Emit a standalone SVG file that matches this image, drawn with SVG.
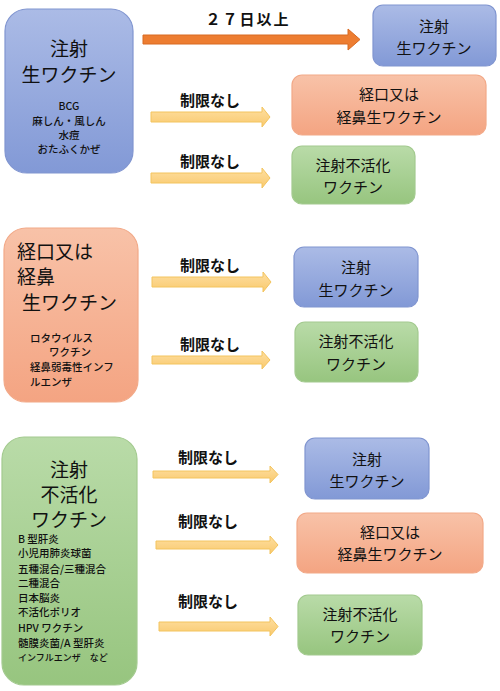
<svg xmlns="http://www.w3.org/2000/svg" width="500" height="691" viewBox="0 0 500 691">
<defs>
<linearGradient id="gb" x1="0" y1="0" x2="0" y2="1"><stop offset="0" stop-color="#abbbe6"/><stop offset="1" stop-color="#8299d6"/></linearGradient>
<linearGradient id="go" x1="0" y1="0" x2="0" y2="1"><stop offset="0" stop-color="#f8c2a8"/><stop offset="1" stop-color="#f4a482"/></linearGradient>
<linearGradient id="gg" x1="0" y1="0" x2="0" y2="1"><stop offset="0" stop-color="#b9dba8"/><stop offset="1" stop-color="#97c57f"/></linearGradient>
<linearGradient id="gy" x1="0" y1="0" x2="0" y2="1"><stop offset="0" stop-color="#fedfa2"/><stop offset="1" stop-color="#f9c96d"/></linearGradient>
</defs>
<style>
text{font-family:"Noto Sans CJK JP","Noto Sans",sans-serif;fill:#111;}
.b{fill:url(#gb);stroke:#8095d0;stroke-width:1.2;}
.o{fill:url(#go);stroke:#f2a988;stroke-width:1.2;}
.g{fill:url(#gg);stroke:#a3ca8f;stroke-width:1.2;}
.ya{fill:url(#gy);stroke:#f3c45e;stroke-width:1;}
.oa{fill:#ed7d31;stroke:#d86a22;stroke-width:1;}
.big{font-size:19px;}
.mid{font-size:15px;}
.sm{font-size:10.5px;font-weight:500;}
.xs{font-size:9px;font-weight:500;}
.lb{font-size:15px;font-weight:bold;text-anchor:middle;}
.c{text-anchor:middle;}
</style>
<g id="connectors">
<path class="oa" d="M143,35 H348 V29 L360,39.5 L348,50 V44 H143 Z"/>
<text class="lb" x="248" y="25" style="letter-spacing:2px">２７日以上</text>
<path class="ya" d="M151,112 H262 V107 L270,117 L262,127 V122 H151 Z"/>
<text class="lb" x="210" y="106">制限なし</text>
<path class="ya" d="M151,173 H262 V168 L270,178 L262,188 V183 H151 Z"/>
<text class="lb" x="210" y="167">制限なし</text>
<path class="ya" d="M152,277 H263 V272 L271,282 L263,292 V287 H152 Z"/>
<text class="lb" x="210" y="271">制限なし</text>
<path class="ya" d="M152,356 H262 V351 L270,360 L262,369 V364 H152 Z"/>
<text class="lb" x="210" y="350">制限なし</text>
<path class="ya" d="M153,471 H270 V466 L278,474.5 L270,483 V478 H153 Z"/>
<text class="lb" x="208" y="463">制限なし</text>
<path class="ya" d="M156,541 H270 V536 L278,545 L270,554 V549 H156 Z"/>
<text class="lb" x="208" y="527">制限なし</text>
<path class="ya" d="M159,622 H270 V617 L278,626.5 L270,636 V631 H159 Z"/>
<text class="lb" x="208" y="607">制限なし</text>
</g>
<g id="live-injection-main">
<rect class="b" x="5" y="9" width="128" height="164" rx="22"/>
<text class="big c" x="69" y="56">注射</text>
<text class="big c" x="69" y="82">生ワクチン</text>
<text class="sm c" x="69" y="110">BCG</text>
<text class="sm c" x="69" y="125">麻しん・風しん</text>
<text class="sm c" x="69" y="139">水痘</text>
<text class="sm c" x="69" y="153">おたふくかぜ</text>
</g>
<g id="t1-live">
<rect class="b" x="373" y="5" width="123" height="61" rx="10"/>
<text class="mid c" x="434" y="32">注射</text>
<text class="mid c" x="434" y="54">生ワクチン</text>
</g>
<g id="t1-oral">
<rect class="o" x="292" y="75" width="194" height="60" rx="10"/>
<text class="mid c" x="389" y="100">経口又は</text>
<text class="mid c" x="389" y="123">経鼻生ワクチン</text>
</g>
<g id="t1-inact">
<rect class="g" x="292" y="146" width="123" height="58" rx="10"/>
<text class="mid c" x="353" y="171">注射不活化</text>
<text class="mid c" x="353" y="193">ワクチン</text>
</g>
<g id="oral-main">
<rect class="o" x="4" y="228" width="134" height="174" rx="22"/>
<text class="big" x="17" y="259">経口又は</text>
<text class="big" x="17" y="284">経鼻</text>
<text class="big" x="22" y="310">生ワクチン</text>
<text class="sm" x="30" y="342">ロタウイルス</text>
<text class="sm" x="49" y="356">ワクチン</text>
<text class="sm" x="30" y="371">経鼻弱毒性インフ</text>
<text class="sm" x="30" y="386">ルエンザ</text>
</g>
<g id="t2-live">
<rect class="b" x="294" y="247" width="124" height="60" rx="10"/>
<text class="mid c" x="356" y="273">注射</text>
<text class="mid c" x="356" y="296">生ワクチン</text>
</g>
<g id="t2-inact">
<rect class="g" x="295" y="322" width="123" height="60" rx="10"/>
<text class="mid c" x="356" y="347">注射不活化</text>
<text class="mid c" x="356" y="370">ワクチン</text>
</g>
<g id="inact-main">
<rect class="g" x="2" y="437" width="135" height="248" rx="22"/>
<text class="big c" x="69" y="477">注射</text>
<text class="big c" x="69" y="502">不活化</text>
<text class="big c" x="69" y="527">ワクチン</text>
<text class="sm" x="18" y="543">B 型肝炎</text>
<text class="sm" x="18" y="557">小児用肺炎球菌</text>
<text class="sm" x="18" y="573">五種混合/三種混合</text>
<text class="sm" x="18" y="587">二種混合</text>
<text class="sm" x="18" y="602">日本脳炎</text>
<text class="sm" x="18" y="616">不活化ポリオ</text>
<text class="sm" x="18" y="632">HPV ワクチン</text>
<text class="sm" x="18" y="647">髄膜炎菌/A 型肝炎</text>
<text class="xs" x="18" y="661">インフルエンザ　など</text>
</g>
<g id="t3-live">
<rect class="b" x="305" y="438" width="124" height="61" rx="10"/>
<text class="mid c" x="367" y="465">注射</text>
<text class="mid c" x="367" y="487">生ワクチン</text>
</g>
<g id="t3-oral">
<rect class="o" x="297" y="513" width="186" height="60" rx="10"/>
<text class="mid c" x="390" y="538">経口又は</text>
<text class="mid c" x="390" y="560">経鼻生ワクチン</text>
</g>
<g id="t3-inact">
<rect class="g" x="298" y="595" width="124" height="60" rx="10"/>
<text class="mid c" x="360" y="620">注射不活化</text>
<text class="mid c" x="360" y="642">ワクチン</text>
</g>
</svg>
